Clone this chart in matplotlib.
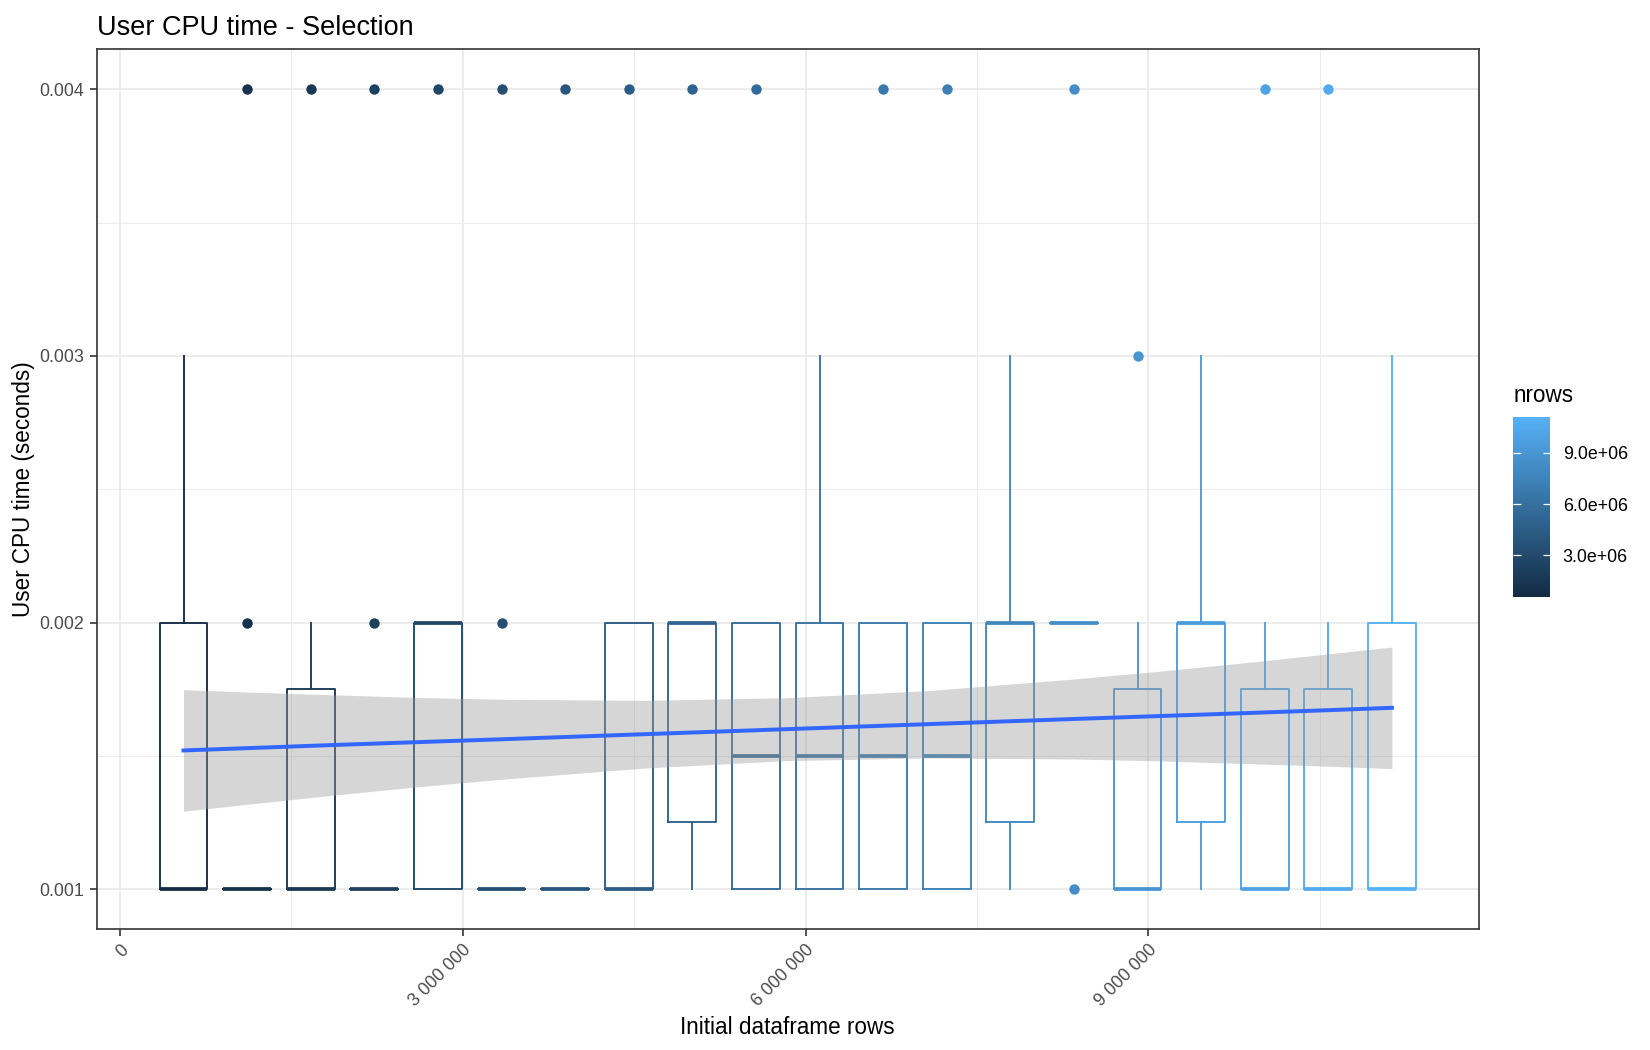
import matplotlib
matplotlib.use("Agg")
import matplotlib.pyplot as plt
from matplotlib.colors import LinearSegmentedColormap, Normalize
from matplotlib.cm import ScalarMappable
import numpy as np

plt.rcParams['font.family'] = ['Liberation Sans', 'DejaVu Sans']

# group sizes (rows of the initial dataframe)
nrows = [556500, 1113000, 1669500, 2226000, 2782500, 3339000, 3895500, 4452000,
         5008500, 5565000, 6121500, 6678000, 7234500, 7791000, 8347500, 8904000,
         9460500, 10017000, 10573500, 11130000]

# box statistics, in milliseconds
q1 = [1, 1, 1, 1, 1, 1, 1, 1, 1.25, 1, 1, 1, 1, 1.25, 2, 1, 1.25, 1, 1, 1]
med = [1, 1, 1, 1, 2, 1, 1, 1, 2, 1.5, 1.5, 1.5, 1.5, 2, 2, 1, 2, 1, 1, 1]
q3 = [2, 1, 1.75, 1, 2, 1, 1, 2, 2, 2, 2, 2, 2, 2, 2, 1.75, 2, 1.75, 1.75, 2]
whislo = [1, 1, 1, 1, 1, 1, 1, 1, 1, 1, 1, 1, 1, 1, 2, 1, 1, 1, 1, 1]
whishi = [3, 1, 2, 1, 2, 1, 1, 2, 2, 2, 3, 2, 2, 3, 2, 2, 3, 2, 2, 3]
fliers = [[], [2, 4], [4], [2, 4], [4], [2, 4], [4], [4], [4], [4],
          [], [4], [4], [], [1, 4], [3], [], [4], [4], []]

# linear fit (geom_smooth, method = lm), in ms
smooth_x = [556500, 1200000, 1840000, 2590000, 3340000, 4590000, 5840000,
            7090000, 8340000, 9090000, 9840000, 10500000, 11130000]
smooth_fit = [1.520, 1.530, 1.540, 1.551, 1.562, 1.581, 1.600,
              1.619, 1.638, 1.649, 1.660, 1.670, 1.680]
smooth_lo = [1.292, 1.322, 1.351, 1.383, 1.412, 1.454, 1.482,
             1.492, 1.488, 1.481, 1.471, 1.462, 1.452]
smooth_hi = [1.748, 1.738, 1.729, 1.719, 1.712, 1.708, 1.718,
             1.745, 1.788, 1.817, 1.849, 1.879, 1.908]

x_ticks = [0, 3000000, 6000000, 9000000]
y_ticks = [0.001, 0.002, 0.003, 0.004]
cbar_ticks = [3000000, 6000000, 9000000]

cmap = LinearSegmentedColormap.from_list("gg", ["#132B43", "#56B1F7"])
norm = Normalize(min(nrows), max(nrows))

fig = plt.figure(figsize=(11, 7), dpi=150)
ax = fig.add_axes([0.0587, 0.1152, 0.8374, 0.8377])

box_w = 0.75 * (nrows[1] - nrows[0])
for i, x in enumerate(nrows):
    c = cmap(norm(x))
    st = dict(q1=q1[i] / 1000, med=med[i] / 1000, q3=q3[i] / 1000,
              whislo=whislo[i] / 1000, whishi=whishi[i] / 1000,
              fliers=[f / 1000 for f in fliers[i]])
    ax.bxp([st], positions=[x], widths=box_w, showcaps=False, manage_ticks=False,
           boxprops=dict(color=c, lw=0.9),
           whiskerprops=dict(color=c, lw=0.9),
           medianprops=dict(color=c, lw=1.8, solid_capstyle='butt'),
           flierprops=dict(marker='o', markerfacecolor=c, markeredgecolor=c,
                           markersize=5.0, markeredgewidth=0))

sx = np.array(smooth_x)
ax.fill_between(sx, np.array(smooth_lo) / 1000, np.array(smooth_hi) / 1000,
                color='#999999', alpha=0.4, lw=0, zorder=4)
ax.plot(sx, np.array(smooth_fit) / 1000, color='#3366FF', lw=1.9, zorder=5)

lo_x = nrows[0] - box_w / 2
hi_x = nrows[-1] + box_w / 2
pad = 0.05 * (hi_x - lo_x)
ax.set_xlim(lo_x - pad, hi_x + pad)
ax.set_ylim(0.001 - 0.00015, 0.004 + 0.00015)

ax.set_xticks(x_ticks)
ax.set_xticklabels([f"{v:,}".replace(",", " ") for v in x_ticks],
                   rotation=45, ha='right', va='top', rotation_mode='anchor')
ax.set_xticks([1500000, 4500000, 7500000, 10500000], minor=True)
ax.set_yticks(y_ticks)
ax.set_yticklabels([f"{v:.3f}" for v in y_ticks])
ax.set_yticks([0.0015, 0.0025, 0.0035], minor=True)
ax.tick_params(which='major', length=3.5, width=0.8, color='#333333',
               labelsize=8.6, labelcolor='#4D4D4D', pad=2.5)
ax.tick_params(which='minor', length=0)
ax.grid(which='major', color='#EBEBEB', lw=0.9)
ax.grid(which='minor', color='#EBEBEB', lw=0.45)
ax.set_axisbelow(True)
for s in ax.spines.values():
    s.set_color('#333333')
    s.set_linewidth(0.8)

ax.set_xlabel("Initial dataframe rows", fontsize=10.8, labelpad=3)
ax.set_ylabel("User CPU time (seconds)", fontsize=10.8, labelpad=2)
ax.set_title("User CPU time - Selection", fontsize=13, loc='left', pad=7)

# colour bar legend
cax = fig.add_axes([0.9172, 0.4317, 0.0223, 0.1714])
cb = fig.colorbar(ScalarMappable(norm=norm, cmap=cmap), cax=cax)
cb.outline.set_visible(False)
cb.set_ticks(cbar_ticks)
cb.set_ticklabels([f"{v:.1e}" for v in cbar_ticks])
cax.tick_params(length=0, labelsize=8.6, pad=6)
cax.hlines(cbar_ticks, 0, 0.2, color='white', lw=0.6)
cax.hlines(cbar_ticks, 0.8, 1, color='white', lw=0.6)
fig.text(0.9172, 0.612, "nrows", fontsize=10.8, ha='left', va='bottom')

fig.savefig("out.png", dpi=150)
